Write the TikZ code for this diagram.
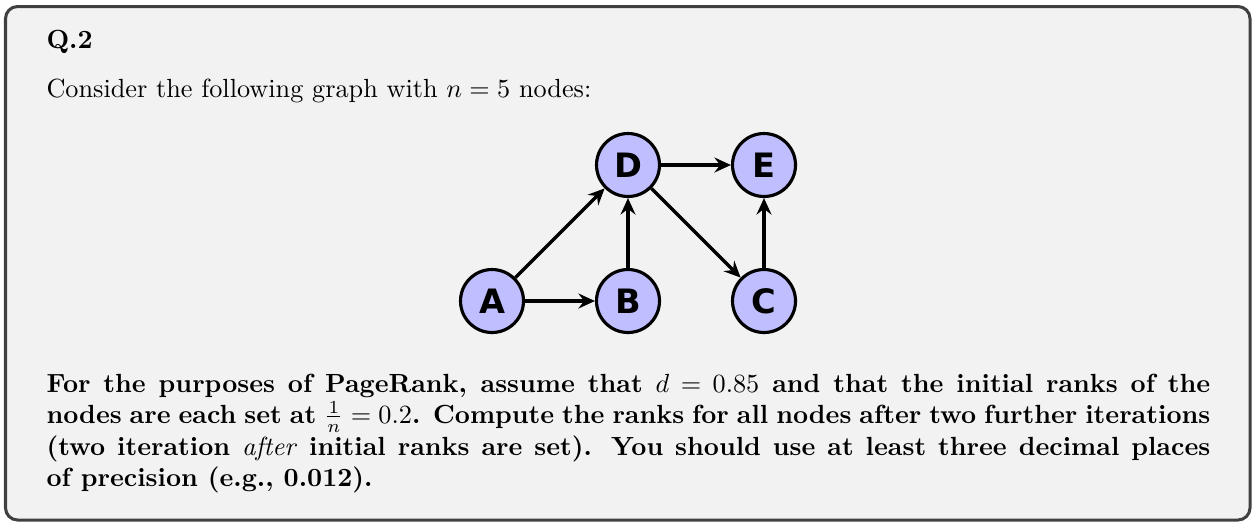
\documentclass[tikz,border=0pt]{standalone}
\usepackage{fontspec}
\newfontfamily\nodefont{DejaVu Sans}[BoldFont={DejaVu Sans Bold}]
\usetikzlibrary{arrows.meta}
\definecolor{framecol}{RGB}{64,64,64}
\definecolor{bgcol}{RGB}{242,242,242}
\definecolor{nodefill}{RGB}{191,191,255}
\tikzset{
  gnode/.style={circle, draw=black, line width=1.2pt, fill=nodefill, minimum size=24pt, inner sep=0pt, font=\nodefont\bfseries\fontsize{12.8}{14}\selectfont},
  garrow/.style={line width=1.25pt, -{Stealth[length=6.3pt,width=5.7pt,inset=2.2pt]}},
}
\begin{document}
\begin{tikzpicture}[x=0.381pt,y=-0.381pt]
\useasboundingbox (0,0) rectangle (1256,526);
\draw[line width=1.15pt, rounded corners=4.6pt, draw=framecol, fill=bgcol] (5.5,6.5) rectangle (1250,520);
\node[anchor=base west, inner sep=0pt] (title) at (46,48) {\textbf{Q.2}};
\node[anchor=base west, inner sep=0pt] (intro) at (46,97) {Consider the following graph with $n=5$ nodes:};
\node[gnode] (D) at (628,165) {D};
\node[gnode] (E) at (764,165) {E};
\node[gnode] (A) at (492,301) {A};
\node[gnode] (B) at (628,301) {B};
\node[gnode] (C) at (764,301) {C};
\draw[garrow] (A) -- (B);
\draw[garrow] (A) -- (D);
\draw[garrow] (B) -- (D);
\draw[garrow] (D) -- (E);
\draw[garrow] (D) -- (C);
\draw[garrow] (C) -- (E);
\node[anchor=base west, inner sep=0pt, text width=443.4pt, align=justify] (para) at (46,392) {\bfseries For the purposes of PageRank, assume that $d=0.85$ and that the initial ranks of the\linebreak nodes are each set at $\frac{1}{n}=0.2$. Compute the ranks for all nodes after two further iterations\linebreak (two iteration \textit{\mdseries after} initial ranks are set). You should use at least three decimal places\linebreak of precision (e.g., 0.012).};
\end{tikzpicture}
\end{document}
